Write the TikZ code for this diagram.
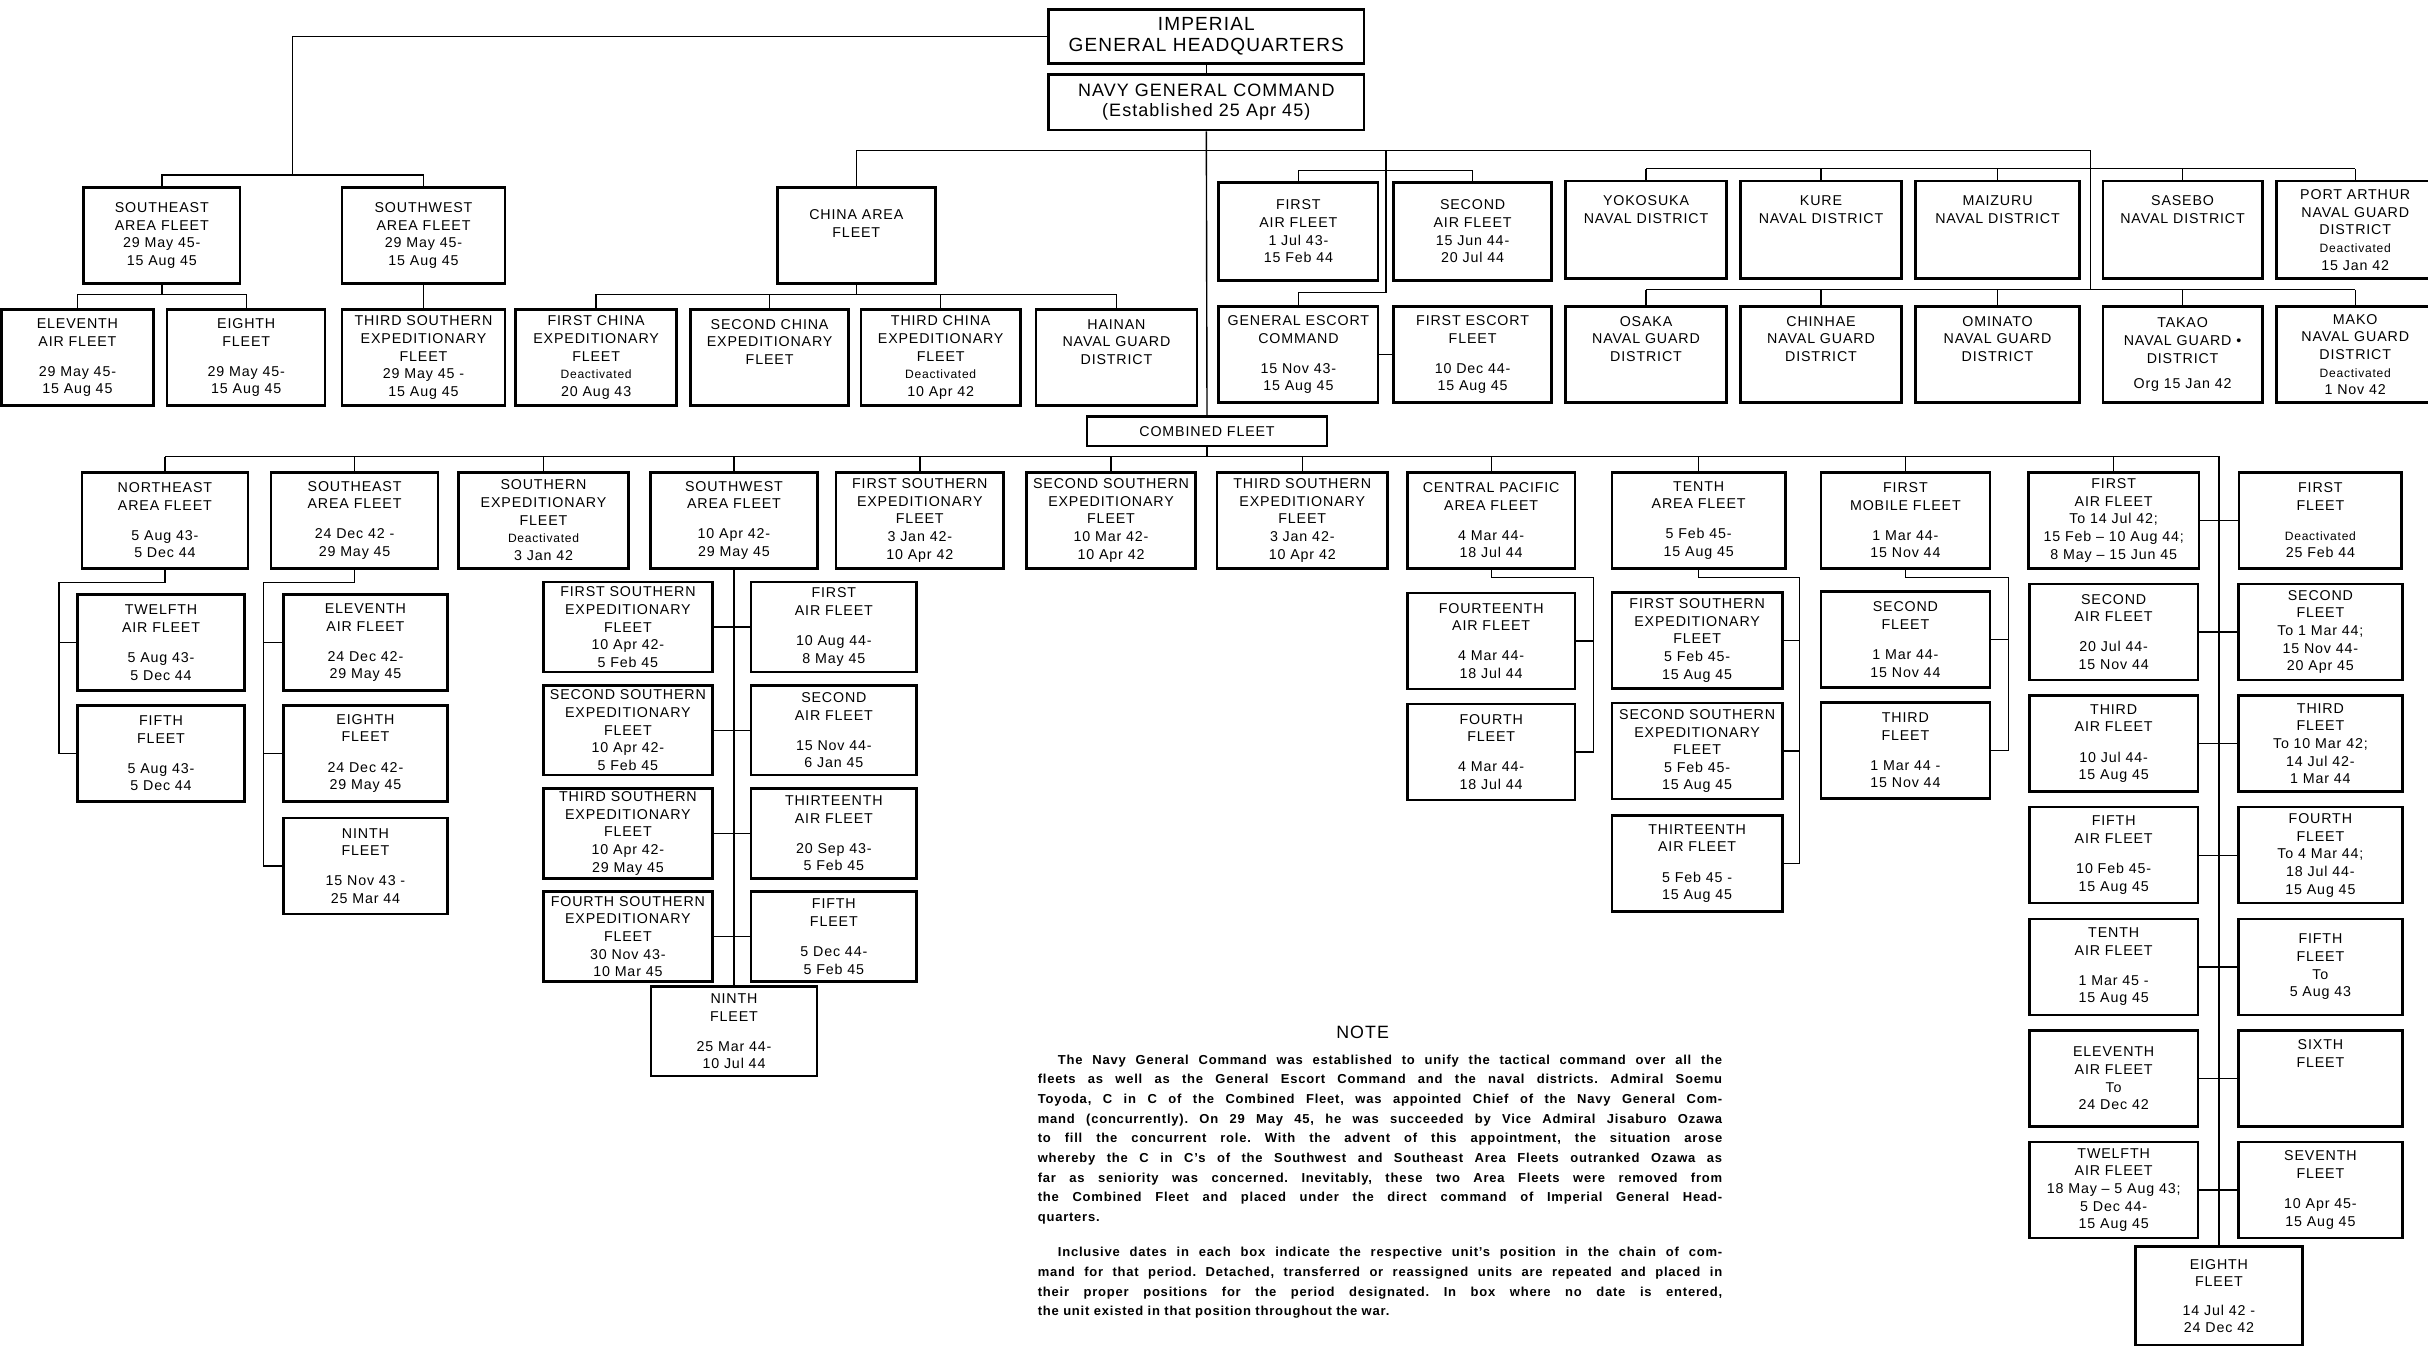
\documentclass[tikz,border=0pt]{standalone}
\usepackage{fontspec}
\setsansfont[LetterSpace=6]{Liberation Sans}
\usepackage{tikz}
\usetikzlibrary{positioning}

\newcommand{\deact}{{\fontsize{7.8}{9}\selectfont Deactivated}}

\begin{document}
\begin{tikzpicture}[
    x = 1pt,
    y = -1pt,
    font = \sffamily\fontsize{9.2}{11.4}\selectfont,
    unit/.style = {
      rectangle,
      draw,
      line width=1.6pt,
      align=center,
      inner sep=1pt,
      minimum width=104,
      minimum height=62
    },
    hq/.style = {
      unit,
      minimum width=204,
      minimum height=35,
      font=\sffamily\fontsize{11.6}{13}\selectfont
    },
    link/.style = {
      line width=.9pt
    },
    note/.style = {
      text width=442,
      align=justify,
      inner sep=0pt,
      font=\sffamily\bfseries\fontsize{8.4}{12.7}\selectfont
    }
  ]
    \useasboundingbox (0,0) rectangle (1568,869);

    % headquarters
    \node[hq, font=\sffamily\fontsize{12.3}{14}\selectfont] (ighq) at (779,23.5) {IMPERIAL\\GENERAL HEADQUARTERS};
    \node[hq, minimum height=36] (ngc) at (779,66) {NAVY GENERAL COMMAND\\(Established 25 Apr 45)};

    % area fleets under IGHQ
    \node[unit, minimum width=101] (seaf) at (104.5,152) {SOUTHEAST\\AREA FLEET\\29 May 45-\\15 Aug 45};
    \node[unit, minimum width=105] (swaf) at (273.5,152) {SOUTHWEST\\AREA FLEET\\29 May 45-\\15 Aug 45};
    \node[unit, minimum width=98] (elev1) at (50,231) {ELEVENTH\\AIR FLEET\\[8pt]29 May 45-\\15 Aug 45};
    \node[unit, minimum width=102] (eigh1) at (159,231) {EIGHTH\\FLEET\\[8pt]29 May 45-\\15 Aug 45};
    \node[unit, minimum width=105] (tse1) at (273.5,231) {THIRD SOUTHERN\\EXPEDITIONARY\\FLEET\\29 May 45 -\\15 Aug 45};

    % china
    \node[unit, minimum width=102] (chaf) at (553,152) {CHINA AREA\\FLEET\\[4pt]~};
    \node[unit] (fce) at (385,231) {FIRST CHINA\\EXPEDITIONARY\\FLEET\\\deact\\20 Aug 43};
    \node[unit, minimum width=102] (sce) at (497,231) {SECOND CHINA\\EXPEDITIONARY\\FLEET\\[9pt]~};
    \node[unit, minimum width=103] (tce) at (607.5,231) {THIRD CHINA\\EXPEDITIONARY\\FLEET\\\deact\\10 Apr 42};
    \node[unit] (hain) at (721,231) {HAINAN\\NAVAL GUARD\\DISTRICT\\[9pt]~};

    % air fleets, escort
    \node[unit, minimum width=103, minimum height=63] (fair1) at (838.5,149.5) {FIRST\\AIR FLEET\\1 Jul 43-\\15 Feb 44};
    \node[unit, minimum width=102, minimum height=63] (sair1) at (951,149.5) {SECOND\\AIR FLEET\\15 Jun 44-\\20 Jul 44};
    \node[unit, minimum width=103] (gec) at (838.5,229) {GENERAL ESCORT\\COMMAND\\[8pt]15 Nov 43-\\15 Aug 45};
    \node[unit, minimum width=102] (fef) at (951,229) {FIRST ESCORT\\FLEET\\[8pt]10 Dec 44-\\15 Aug 45};

    % naval districts
    \node[unit, minimum height=63] (yoko) at (1063,148.5) {YOKOSUKA\\NAVAL DISTRICT\\[15pt]~};
    \node[unit, minimum height=63] (kure) at (1176,148.5) {KURE\\NAVAL DISTRICT\\[15pt]~};
    \node[unit, minimum width=106, minimum height=63] (maiz) at (1290,148.5) {MAIZURU\\NAVAL DISTRICT\\[15pt]~};
    \node[unit, minimum width=103, minimum height=63] (sase) at (1409.5,148.5) {SASEBO\\NAVAL DISTRICT\\[15pt]~};
    \node[unit, minimum width=102, minimum height=63] (port) at (1521,148.5) {PORT ARTHUR\\NAVAL GUARD\\DISTRICT\\\deact\\15 Jan 42};
    \node[unit] (osak) at (1063,229) {OSAKA\\NAVAL GUARD\\DISTRICT\\[9pt]~};
    \node[unit] (chin) at (1176,229) {CHINHAE\\NAVAL GUARD\\DISTRICT\\[9pt]~};
    \node[unit, minimum width=106] (omin) at (1290,229) {OMINATO\\NAVAL GUARD\\DISTRICT\\[9pt]~};
    \node[unit, minimum width=103] (taka) at (1409.5,229) {TAKAO\\NAVAL GUARD •\\DISTRICT\\[5pt]Org 15 Jan 42};
    \node[unit, minimum width=102] (mako) at (1521,229) {MAKO\\NAVAL GUARD\\DISTRICT\\\deact\\1 Nov 42};

    % combined fleet
    \node[unit, minimum width=155, minimum height=19] (cf) at (779.5,278.5) {COMBINED FLEET};

    \node[unit, minimum width=107] (nea) at (106.5,336) {NORTHEAST\\AREA FLEET\\[8pt]5 Aug 43-\\5 Dec 44};
    \node[unit, minimum width=108] (sea) at (229,336) {SOUTHEAST\\AREA FLEET\\[8pt]24 Dec 42 -\\29 May 45};
    \node[unit, minimum width=110] (sef) at (351,336) {SOUTHERN\\EXPEDITIONARY\\FLEET\\\deact\\3 Jan 42};
    \node[unit, minimum width=108] (swa) at (474,336) {SOUTHWEST\\AREA FLEET\\[8pt]10 Apr 42-\\29 May 45};
    \node[unit, minimum width=108] (fse) at (594,336) {FIRST SOUTHERN\\EXPEDITIONARY\\FLEET\\3 Jan 42-\\10 Apr 42};
    \node[unit, minimum width=109] (sse) at (717.5,336) {SECOND SOUTHERN\\EXPEDITIONARY\\FLEET\\10 Mar 42-\\10 Apr 42};
    \node[unit, minimum width=110] (tse) at (841,336) {THIRD SOUTHERN\\EXPEDITIONARY\\FLEET\\3 Jan 42-\\10 Apr 42};
    \node[unit, minimum width=108] (cpa) at (963,336) {CENTRAL PACIFIC\\AREA FLEET\\[8pt]4 Mar 44-\\18 Jul 44};
    \node[unit, minimum width=112] (tenth) at (1097,336) {TENTH\\AREA FLEET\\[8pt]5 Feb 45-\\15 Aug 45};
    \node[unit, minimum width=109] (fmf) at (1230.5,336) {FIRST\\MOBILE FLEET\\[8pt]1 Mar 44-\\15 Nov 44};
    \node[unit, minimum width=110] (fairf) at (1365,336) {FIRST\\AIR FLEET\\To 14 Jul 42;\\15 Feb -- 10 Aug 44;\\8 May -- 15 Jun 45};
    \node[unit, minimum width=105] (ff) at (1498.5,336) {FIRST\\FLEET\\[8pt]\deact\\25 Feb 44};

    % under northeast area fleet
    \node[unit, minimum width=108] (twelfne) at (104,415) {TWELFTH\\AIR FLEET\\[8pt]5 Aug 43-\\5 Dec 44};
    \node[unit, minimum width=108, below=8pt of twelfne] (fifthne) {FIFTH\\FLEET\\[8pt]5 Aug 43-\\5 Dec 44};

    % under southeast area fleet
    \node[unit, minimum width=106] (elevse) at (236,415) {ELEVENTH\\AIR FLEET\\[8pt]24 Dec 42-\\29 May 45};
    \node[unit, minimum width=106, below=8pt of elevse] (eighse) {EIGHTH\\FLEET\\[8pt]24 Dec 42-\\29 May 45};
    \node[unit, minimum width=106, below=9pt of eighse] (ninthse) {NINTH\\FLEET\\[8pt]15 Nov 43 -\\25 Mar 44};

    % under southwest area fleet
    \node[unit, minimum width=109, minimum height=58] (fsesw) at (405.5,405) {FIRST SOUTHERN\\EXPEDITIONARY\\FLEET\\10 Apr 42-\\5 Feb 45};
    \node[unit, minimum width=109, minimum height=58, below=7pt of fsesw] (ssesw) {SECOND SOUTHERN\\EXPEDITIONARY\\FLEET\\10 Apr 42-\\5 Feb 45};
    \node[unit, minimum width=109, minimum height=58, below=7pt of ssesw] (tsesw) {THIRD SOUTHERN\\EXPEDITIONARY\\FLEET\\10 Apr 42-\\29 May 45};
    \node[unit, minimum width=109, minimum height=58, below=7pt of tsesw] (fosesw) {FOURTH SOUTHERN\\EXPEDITIONARY\\FLEET\\30 Nov 43-\\10 Mar 45};
    \node[unit, minimum width=107, minimum height=58] (fairsw) at (538.5,405) {FIRST\\AIR FLEET\\[8pt]10 Aug 44-\\8 May 45};
    \node[unit, minimum width=107, minimum height=58, below=7pt of fairsw] (sairsw) {SECOND\\AIR FLEET\\[8pt]15 Nov 44-\\6 Jan 45};
    \node[unit, minimum width=107, minimum height=58, below=7pt of sairsw] (thirsw) {THIRTEENTH\\AIR FLEET\\[8pt]20 Sep 43-\\5 Feb 45};
    \node[unit, minimum width=107, minimum height=58, below=7pt of thirsw] (fifthsw) {FIFTH\\FLEET\\[8pt]5 Dec 44-\\5 Feb 45};
    \node[unit, minimum width=107, minimum height=58] (ninthsw) at (474,666) {NINTH\\FLEET\\[8pt]25 Mar 44-\\10 Jul 44};

    % under central pacific area fleet
    \node[unit, minimum width=108] (fourtcp) at (963,414) {FOURTEENTH\\AIR FLEET\\[8pt]4 Mar 44-\\18 Jul 44};
    \node[unit, minimum width=108, below=8pt of fourtcp] (fourthcp) {FOURTH\\FLEET\\[8pt]4 Mar 44-\\18 Jul 44};

    % under tenth area fleet
    \node[unit, minimum width=110] (fsete) at (1096,413.5) {FIRST SOUTHERN\\EXPEDITIONARY\\FLEET\\5 Feb 45-\\15 Aug 45};
    \node[unit, minimum width=110, below=8pt of fsete] (ssete) {SECOND SOUTHERN\\EXPEDITIONARY\\FLEET\\5 Feb 45-\\15 Aug 45};
    \node[unit, minimum width=110, below=9pt of ssete] (thirte) {THIRTEENTH\\AIR FLEET\\[8pt]5 Feb 45 -\\15 Aug 45};

    % under first mobile fleet
    \node[unit, minimum width=109] (secondfm) at (1230.5,413) {SECOND\\FLEET\\[8pt]1 Mar 44-\\15 Nov 44};
    \node[unit, minimum width=109, below=8pt of secondfm] (thirdfm) {THIRD\\FLEET\\[8pt]1 Mar 44 -\\15 Nov 44};

    % air fleets and fleets
    \node[unit, minimum width=109, below=8.5pt of fairf] (sairf) {SECOND\\AIR FLEET\\[8pt]20 Jul 44-\\15 Nov 44};
    \node[unit, minimum width=109, below=8.5pt of sairf] (tairf) {THIRD\\AIR FLEET\\[8pt]10 Jul 44-\\15 Aug 45};
    \node[unit, minimum width=109, below=8.5pt of tairf] (fiairf) {FIFTH\\AIR FLEET\\[8pt]10 Feb 45-\\15 Aug 45};
    \node[unit, minimum width=109, below=8.5pt of fiairf] (teairf) {TENTH\\AIR FLEET\\[8pt]1 Mar 45 -\\15 Aug 45};
    \node[unit, minimum width=109, below=8.5pt of teairf] (elairf) {ELEVENTH\\AIR FLEET\\To\\24 Dec 42};
    \node[unit, minimum width=109, below=8.5pt of elairf] (twairf) {TWELFTH\\AIR FLEET\\18 May -- 5 Aug 43;\\5 Dec 44-\\15 Aug 45};
    \node[unit, minimum width=106, below=8.5pt of ff] (sf) {SECOND\\FLEET\\To 1 Mar 44;\\15 Nov 44-\\20 Apr 45};
    \node[unit, minimum width=106, below=8.5pt of sf] (tf) {THIRD\\FLEET\\To 10 Mar 42;\\14 Jul 42-\\1 Mar 44};
    \node[unit, minimum width=106, below=8.5pt of tf] (fof) {FOURTH\\FLEET\\To 4 Mar 44;\\18 Jul 44-\\15 Aug 45};
    \node[unit, minimum width=106, below=8.5pt of fof] (fif) {FIFTH\\FLEET\\To\\5 Aug 43};
    \node[unit, minimum width=106, below=8.5pt of fif] (sixf) {SIXTH\\FLEET\\[21pt]~};
    \node[unit, minimum width=106, below=8.5pt of sixf] (sevf) {SEVENTH\\FLEET\\[8pt]10 Apr 45-\\15 Aug 45};
    \node[unit, minimum width=108, minimum height=64] (eighf) at (1433,837) {EIGHTH\\FLEET\\[7pt]14 Jul 42 -\\24 Dec 42};

    % note
    \node[font=\sffamily\fontsize{11.5}{13}\selectfont] (notehead) at (880,667) {NOTE};
    \node[note, anchor=north west] (notetext) at (670,681) {\frenchspacing
      \hspace*{13pt}The Navy General Command was established to unify the tactical command over all the\linebreak
      fleets as well as the General Escort Command and the naval districts. Admiral Soemu\linebreak
      Toyoda, C in C of the Combined Fleet, was appointed Chief of the Navy General Com-\linebreak
      mand (concurrently). On 29 May 45, he was succeeded by Vice Admiral Jisaburo Ozawa\linebreak
      to fill the concurrent role. With the advent of this appointment, the situation arose\linebreak
      whereby the C in C's of the Southwest and Southeast Area Fleets outranked Ozawa as\linebreak
      far as seniority was concerned. Inevitably, these two Area Fleets were removed from\linebreak
      the Combined Fleet and placed under the direct command of Imperial General Head-\linebreak
      quarters.\par\vspace{10pt}
      \hspace*{13pt}Inclusive dates in each box indicate the respective unit's position in the chain of com-\linebreak
      mand for that period. Detached, transferred or reassigned units are repeated and placed in\linebreak
      their proper positions for the period designated. In box where no date is entered,\linebreak
      the unit existed in that position throughout the war.};

    % connectors: headquarters
    \coordinate (igbar) at (189,113);
    \coordinate (sebar) at (104.5,190);
    \coordinate (chbar) at (553,190);
    \draw[link] (ighq) -- (ngc);
    \draw[link] (ngc) -- (cf);
    \draw[link] (ighq.west) -| (igbar);
    \draw[link] (seaf.north) |- (igbar) -| (swaf.north);
    \draw[link] (seaf.south) -- (sebar);
    \draw[link] (elev1.north) |- (sebar) -| (eigh1.north);
    \draw[link] (swaf) -- (tse1);

    % connectors: navy general command
    \coordinate (dtop) at (1350,97);
    \coordinate (dup) at (1350,109);
    \coordinate (dlow) at (1350,187);
    \coordinate (atop) at (895,97);
    \coordinate (abar) at (895,110);
    \coordinate (alow) at (895,189);
    \draw[link] (chaf.north) |- (dtop) -- (dlow);
    \draw[link] (chaf.south) -- (chbar);
    \draw[link] (fce.north |- chbar) -- (hain.north |- chbar);
    \foreach \n in {fce,sce,tce,hain}
      \draw[link] (\n.north) -- (\n.north |- chbar);
    \draw[link] (yoko.north |- dup) -- (port.north |- dup);
    \draw[link] (osak.north |- dlow) -- (mako.north |- dlow);
    \foreach \n in {yoko,kure,maiz,sase,port}
      \draw[link] (\n.north) -- (\n.north |- dup);
    \foreach \n in {osak,chin,omin,taka,mako}
      \draw[link] (\n.north) -- (\n.north |- dlow);
    \draw[link] (atop) -- (alow) -| (gec.north);
    \draw[link] (fair1.north) |- (abar) -| (sair1.north);
    \draw[link] (gec) -- (fef);

    % connectors: combined fleet
    \coordinate (cfbar) at (1433,295);
    \draw[link] (cf.south) -- (cf.south |- cfbar);
    \draw[link] (nea.north |- cfbar) -- (cfbar) -- (eighf.north);
    \foreach \n in {nea,sea,sef,swa,fse,sse,tse,cpa,tenth,fmf,fairf}
      \draw[link] (\n.north) -- (\n.north |- cfbar);
    \foreach \a/\b in {fairf/ff,sairf/sf,tairf/tf,fiairf/fof,teairf/fif,elairf/sixf,twairf/sevf}
      \draw[link] (\a) -- (\b);

    \coordinate (nebend) at (38,376);
    \draw[link] (nea.south) |- (nebend) |- (fifthne.west);
    \draw[link] (twelfne.west) -- (twelfne.west -| nebend);

    \coordinate (sebend) at (170,376);
    \draw[link] (sea.south) |- (sebend) |- (ninthse.west);
    \foreach \n in {elevse,eighse}
      \draw[link] (\n.west) -- (\n.west -| sebend);

    \draw[link] (swa) -- (ninthsw);
    \foreach \a/\b in {fsesw/fairsw,ssesw/sairsw,tsesw/thirsw,fosesw/fifthsw}
      \draw[link] (\a) -- (\b);

    \coordinate (cpbend) at (1029,373);
    \draw[link] (cpa.south) |- (cpbend) |- (fourthcp.east);
    \draw[link] (fourtcp.east) -- (fourtcp.east -| cpbend);

    \coordinate (tebend) at (1162,373);
    \draw[link] (tenth.south) |- (tebend) |- (thirte.east);
    \foreach \n in {fsete,ssete}
      \draw[link] (\n.east) -- (\n.east -| tebend);

    \coordinate (fmbend) at (1297,373);
    \draw[link] (fmf.south) |- (fmbend) |- (thirdfm.east);
    \draw[link] (secondfm.east) -- (secondfm.east -| fmbend);

  \end{tikzpicture}
\end{document}
